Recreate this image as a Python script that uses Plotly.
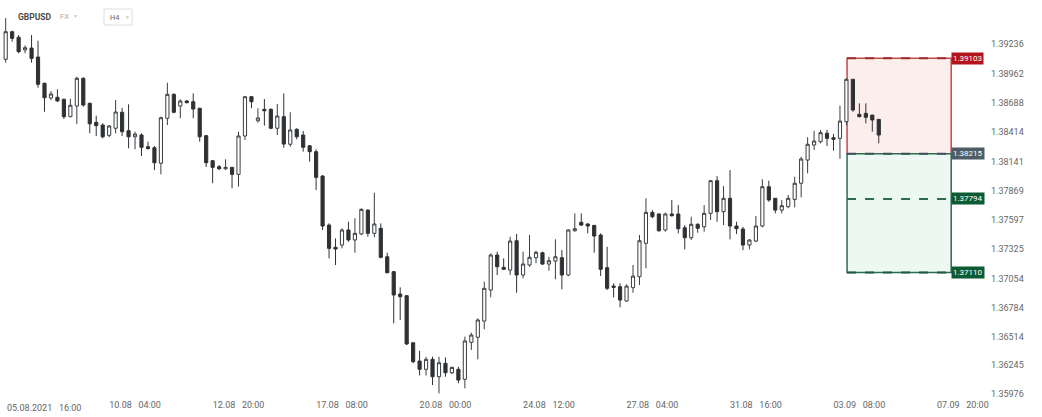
import plotly.graph_objects as go

# GBPUSD H4 candles (index = candle number, first one 05.08.2021 00:00)
open_ = [1.39094, 1.39351, 1.39299, 1.39181, 1.39199, 1.39115, 1.38871, 1.38734, 1.38740, 1.38722,
         1.38560, 1.38659, 1.38917, 1.38684, 1.38507, 1.38482, 1.38386, 1.38452, 1.38601, 1.38429,
         1.38373, 1.38389, 1.38280, 1.38271, 1.38126, 1.38545, 1.38768, 1.38659, 1.38706, 1.38699,
         1.38638, 1.38383, 1.38150, 1.38094, 1.38075, 1.38088, 1.38023, 1.38380, 1.38746, 1.38522,
         1.38628, 1.38628, 1.38452, 1.38560, 1.38303, 1.38442, 1.38389, 1.38289, 1.38234, 1.38007,
         1.37551, 1.37344, 1.37365, 1.37505, 1.37412, 1.37468, 1.37690, 1.37474, 1.37521, 1.37256,
         1.37117, 1.36909, 1.36893, 1.36455, 1.36285, 1.36208, 1.36301, 1.36139, 1.36264, 1.36176,
         1.36208, 1.36115, 1.36459, 1.36506, 1.36657, 1.36946, 1.37272, 1.37157, 1.37132, 1.37405,
         1.37086, 1.37179, 1.37247, 1.37293, 1.37188, 1.37216, 1.37247, 1.37086, 1.37498, 1.37576,
         1.37561, 1.37548, 1.37458, 1.37154, 1.36983, 1.36977, 1.36844, 1.36968, 1.37070, 1.37381,
         1.37669, 1.37654, 1.37505, 1.37654, 1.37654, 1.37526, 1.37433, 1.37558, 1.37535, 1.37660,
         1.37964, 1.37675, 1.37800, 1.37542, 1.37514, 1.37365, 1.37402, 1.37542, 1.37908, 1.37800,
         1.37690, 1.37722, 1.37790, 1.37940, 1.38156, 1.38296, 1.38327, 1.38405, 1.38364, 1.38358,
         1.38513, 1.38908, 1.38582, 1.38591, 1.38575, 1.38535]
high = [1.39478, 1.39360, 1.39320, 1.39224, 1.39320, 1.39267, 1.38876, 1.38799, 1.38815, 1.38727,
        1.38727, 1.38932, 1.38926, 1.38690, 1.38569, 1.38498, 1.38482, 1.38715, 1.38643, 1.38675,
        1.38420, 1.38405, 1.38327, 1.38287, 1.38560, 1.38876, 1.38777, 1.38722, 1.38715, 1.38777,
        1.38643, 1.38389, 1.38156, 1.38110, 1.38163, 1.38091, 1.38420, 1.38746, 1.38746, 1.38638,
        1.38724, 1.38638, 1.38678, 1.38777, 1.38601, 1.38452, 1.38426, 1.38296, 1.38256, 1.38017,
        1.37567, 1.37427, 1.37521, 1.37582, 1.37614, 1.37707, 1.37697, 1.37852, 1.37567, 1.37293,
        1.37123, 1.36971, 1.36900, 1.36455, 1.36381, 1.36325, 1.36325, 1.36325, 1.36319, 1.36232,
        1.36232, 1.36512, 1.36549, 1.36683, 1.37024, 1.37288, 1.37303, 1.37241, 1.37442, 1.37468,
        1.37303, 1.37458, 1.37312, 1.37303, 1.37256, 1.37418, 1.37318, 1.37511, 1.37660, 1.37660,
        1.37567, 1.37551, 1.37474, 1.37349, 1.37008, 1.37008, 1.36999, 1.37179, 1.37458, 1.37800,
        1.37690, 1.37660, 1.37666, 1.37784, 1.37737, 1.37551, 1.37629, 1.37567, 1.37737, 1.37970,
        1.38007, 1.37914, 1.38063, 1.37582, 1.37535, 1.37418, 1.37635, 1.37977, 1.37964, 1.37800,
        1.37784, 1.37830, 1.38001, 1.38187, 1.38368, 1.38429, 1.38436, 1.38436, 1.38398, 1.38662,
        1.38917, 1.38908, 1.38684, 1.38684, 1.38575, 1.38535]
low = [1.39062, 1.39258, 1.39150, 1.39150, 1.39062, 1.38830, 1.38606, 1.38715, 1.38699, 1.38538,
       1.38554, 1.38492, 1.38653, 1.38405, 1.38380, 1.38358, 1.38368, 1.38405, 1.38380, 1.38265,
       1.38256, 1.38194, 1.38256, 1.38063, 1.38023, 1.38482, 1.38591, 1.38545, 1.38684, 1.38545,
       1.38327, 1.38091, 1.37940, 1.38063, 1.38063, 1.37893, 1.37908, 1.38343, 1.38638, 1.38504,
       1.38476, 1.38442, 1.38389, 1.38271, 1.38280, 1.38349, 1.38234, 1.38141, 1.37877, 1.37505,
       1.37241, 1.37179, 1.37334, 1.37396, 1.37293, 1.37458, 1.37442, 1.37437, 1.37241, 1.37102,
       1.36636, 1.36667, 1.36434, 1.36264, 1.36151, 1.36151, 1.36062, 1.35984, 1.36139, 1.36164,
       1.36078, 1.36031, 1.36388, 1.36301, 1.36580, 1.36878, 1.37086, 1.37132, 1.37086, 1.36921,
       1.37055, 1.37163, 1.37195, 1.37179, 1.37126, 1.37046, 1.36953, 1.37076, 1.37489, 1.37542,
       1.37474, 1.37293, 1.37076, 1.36946, 1.36878, 1.36785, 1.36837, 1.36921, 1.36993, 1.37148,
       1.37614, 1.37489, 1.37489, 1.37629, 1.37474, 1.37325, 1.37412, 1.37480, 1.37489, 1.37598,
       1.37582, 1.37551, 1.37418, 1.37468, 1.37318, 1.37325, 1.37393, 1.37530, 1.37768, 1.37660,
       1.37660, 1.37707, 1.37716, 1.37809, 1.38033, 1.38250, 1.38312, 1.38287, 1.38243, 1.38168,
       1.38482, 1.38606, 1.38554, 1.38498, 1.38420, 1.38312]
close = [1.39351, 1.39289, 1.39165, 1.39202, 1.39103, 1.38861, 1.38736, 1.38771, 1.38706, 1.38560,
         1.38666, 1.38917, 1.38668, 1.38494, 1.38476, 1.38373, 1.38473, 1.38603, 1.38420, 1.38373,
         1.38398, 1.38275, 1.38262, 1.38131, 1.38550, 1.38768, 1.38601, 1.38706, 1.38690, 1.38631,
         1.38373, 1.38131, 1.38088, 1.38075, 1.38088, 1.38023, 1.38380, 1.38746, 1.38699, 1.38548,
         1.38615, 1.38452, 1.38566, 1.38305, 1.38436, 1.38373, 1.38275, 1.38234, 1.37995, 1.37542,
         1.37334, 1.37328, 1.37505, 1.37412, 1.37474, 1.37697, 1.37474, 1.37561, 1.37251, 1.37107,
         1.36900, 1.36884, 1.36444, 1.36279, 1.36208, 1.36301, 1.36139, 1.36269, 1.36176, 1.36226,
         1.36108, 1.36472, 1.36527, 1.36667, 1.36962, 1.37272, 1.37163, 1.37139, 1.37402, 1.37086,
         1.37188, 1.37251, 1.37297, 1.37188, 1.37219, 1.37256, 1.37086, 1.37505, 1.37517, 1.37551,
         1.37542, 1.37449, 1.37139, 1.36962, 1.36971, 1.36853, 1.36983, 1.37076, 1.37405, 1.37669,
         1.37629, 1.37498, 1.37654, 1.37638, 1.37517, 1.37433, 1.37558, 1.37521, 1.37660, 1.37964,
         1.37675, 1.37800, 1.37542, 1.37517, 1.37365, 1.37412, 1.37542, 1.37908, 1.37784, 1.37690,
         1.37731, 1.37800, 1.37940, 1.38166, 1.38303, 1.38333, 1.38411, 1.38358, 1.38349, 1.38519,
         1.38908, 1.38622, 1.38560, 1.38554, 1.38529, 1.38389]
candle_idx = list(range(len(open_)))

# price axis labels
y_ticks = [1.39236, 1.38962, 1.38688, 1.38414, 1.38141, 1.37869, 1.37597,
           1.37325, 1.37054, 1.36784, 1.36514, 1.36245, 1.35976]

# time axis labels (every 16 candles)
x_tick_idx = [20, 36, 52, 68, 84, 100, 116, 132, 148]
x_tick_text = ['10.08', '12.08', '17.08', '20.08', '24.08', '27.08', '31.08', '03.09', '07.09']
x_tick_time = ['04:00', '20:00', '08:00', '00:00', '12:00', '04:00', '16:00', '08:00', '20:00']
first_label = ('05.08.2021', '16:00')

# position tool: stop loss / entry / take profits
pos_start, pos_end = 130.1, 146.2
stop_loss = 1.39103
entry = 1.38215
tp1 = 1.37794
tp2 = 1.37110

FONT = 'Roboto'
SP = '\u00a0\u00a0\u00a0'

fig = go.Figure()

fig.add_trace(go.Candlestick(
    x=candle_idx, open=open_, high=high, low=low, close=close,
    increasing=dict(line=dict(color='#3a3d40', width=1), fillcolor='#ffffff'),
    decreasing=dict(line=dict(color='#2e3134', width=1), fillcolor='#2e3134'),
    whiskerwidth=0, showlegend=False, hoverinfo='skip'
))

# red (risk) and green (reward) zones
fig.add_shape(type='rect', xref='x', yref='y', x0=pos_start, x1=pos_end, y0=entry, y1=stop_loss,
              fillcolor='#fdeeee', line=dict(color='#c24b4b', width=1.5), layer='below')
fig.add_shape(type='rect', xref='x', yref='y', x0=pos_start, x1=pos_end, y0=tp2, y1=entry,
              fillcolor='#eef8f3', line=dict(color='#2f6b50', width=1.5), layer='below')
for lvl, col in [(stop_loss, '#9e2a2a'), (entry, '#3f4f58'), (tp1, '#2f6b50'), (tp2, '#1f5a3f')]:
    fig.add_shape(type='line', xref='x', yref='y', x0=pos_start, x1=pos_end, y0=lvl, y1=lvl,
                  line=dict(color=col, width=2, dash='dash'))

for lvl, bg in [(stop_loss, '#b3141b'), (entry, '#4d5d66'), (tp1, '#0b5b34'), (tp2, '#0b5b34')]:
    fig.add_annotation(x=pos_end, y=lvl, xref='x', yref='y', xanchor='left', yanchor='middle',
                       text=f'{lvl:.5f}', showarrow=False, bgcolor=bg, borderpad=1,
                       font=dict(family=FONT, size=8, color='#ffffff'))

# header
fig.add_annotation(x=16 / 990, y=1 - 16.5 / 398, xref='paper', yref='paper', xanchor='left',
                   yanchor='middle', text='<b>GBPUSD</b>', showarrow=False,
                   font=dict(family=FONT, size=8.5, color='#4a4a4a'))
fig.add_annotation(x=58 / 990, y=1 - 16.5 / 398, xref='paper', yref='paper', xanchor='left',
                   yanchor='middle', text='FX', showarrow=False,
                   font=dict(family=FONT, size=7.5, color='#a8a8a8'))
fig.add_annotation(x=71 / 990, y=1 - 16 / 398, xref='paper', yref='paper', xanchor='left',
                   yanchor='middle', text='▼', showarrow=False,
                   font=dict(family=FONT, size=5, color='#c8c8c8'))
fig.add_shape(type='rect', xref='paper', yref='paper', x0=104 / 990, x1=132 / 990,
              y0=1 - 25 / 398, y1=1 - 9 / 398, line=dict(color='#dddddd', width=1),
              fillcolor='#ffffff')
fig.add_annotation(x=108 / 990, y=1 - 17 / 398, xref='paper', yref='paper', xanchor='left',
                   yanchor='middle', text='H4', showarrow=False,
                   font=dict(family=FONT, size=7.5, color='#666666'))
fig.add_annotation(x=123 / 990, y=1 - 16.5 / 398, xref='paper', yref='paper', xanchor='left',
                   yanchor='middle', text='▼', showarrow=False,
                   font=dict(family=FONT, size=5, color='#c8c8c8'))

# first time label sits against the left edge
fig.add_annotation(x=5 / 990, y=0, xref='paper', yref='paper', xanchor='left', yanchor='top',
                   yshift=-3, text=first_label[0] + SP + first_label[1], showarrow=False,
                   font=dict(family=FONT, size=9, color='#666666'))

fig.update_layout(
    width=1042, height=417,
    margin=dict(l=0, r=52, t=0, b=19),
    paper_bgcolor='#ffffff', plot_bgcolor='#ffffff',
    font=dict(family=FONT, size=9, color='#666666'),
    showlegend=False,
)
fig.update_xaxes(range=[-0.88, 152.2], rangeslider_visible=False, showgrid=False, zeroline=False,
                 showline=False, ticks='', tickvals=x_tick_idx,
                 ticktext=[d + SP + t for d, t in zip(x_tick_text, x_tick_time)],
                 tickfont=dict(family=FONT, size=9, color='#666666'))
fig.update_yaxes(range=[1.35941, 1.39646], side='right', showgrid=False, zeroline=False,
                 showline=False, ticks='', tickvals=y_ticks,
                 ticktext=[f'{v:.5f}' for v in y_ticks],
                 tickfont=dict(family=FONT, size=9, color='#666666'))

# drop the browser's default page margin so the figure sits at the top-left corner
fig.write_html('out.html', config={'displayModeBar': False},
               post_script="document.body.style.margin='0';")
